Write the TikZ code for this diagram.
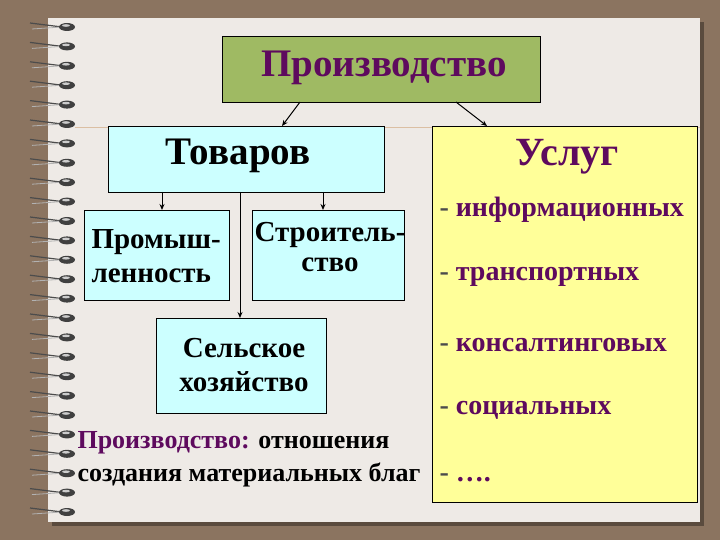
\documentclass[tikz,border=0pt]{standalone}
\usepackage{fontspec}
\setmainfont{Liberation Serif}
\usetikzlibrary{arrows.meta}
\begin{document}
\begin{tikzpicture}[x=1pt,y=-1pt,
  box/.style={draw=black,line width=0.8pt,inner sep=0pt,anchor=north west},
  arr/.style={-{Stealth[length=6pt,width=5pt]},line width=1pt},
  item/.style={anchor=west,font=\fontsize{28}{30}\selectfont\bfseries}]
\definecolor{frame}{HTML}{8B7460}
\definecolor{paper}{HTML}{EEEAE6}
\definecolor{prodg}{HTML}{9FBA63}
\definecolor{cyanb}{HTML}{CCFFFF}
\definecolor{yelb}{HTML}{FFFF99}
\definecolor{purp}{HTML}{5E0A5E}
\fill[frame] (0,0) rectangle (720,540);
\useasboundingbox (0,0) rectangle (720,540);
\fill[black!35!frame] (52,22) rectangle (704,526);
\fill[paper] (48,18) rectangle (700,522);
\draw[color=brown!40!paper,line width=0.8pt] (75,127) -- (700,127);
% rings
\foreach \i in {0,...,25}{
  \pgfmathsetmacro{\yy}{27+19.4*\i}
  \draw[black!70,line width=1.2pt] (62,\yy) -- (30,\yy-4);
  \draw[gray!60,line width=0.8pt] (62,\yy) -- (32,\yy+2);
  \fill[black!75] (67,\yy) ellipse (8pt and 4pt);
  \fill[gray!40] (66,\yy-1.5) ellipse (4pt and 1.3pt);
}
% boxes
\node[box,fill=prodg,minimum width=318pt,minimum height=66pt] (prod) at (222,36) {};
\node[font=\fontsize{39}{42}\selectfont\bfseries,text=purp] at (384,68) {Производство};
\node[box,fill=cyanb,minimum width=276pt,minimum height=66pt] (tov) at (108,126) {};
\node[font=\fontsize{39}{42}\selectfont\bfseries] at (238,156) {Товаров};
\node[box,fill=yelb,minimum width=265pt,minimum height=376pt] (usl) at (432,126) {};
\node[font=\fontsize{40}{42}\selectfont\bfseries,text=purp] at (567,157) {Услуг};
\node[box,fill=cyanb,minimum width=145pt,minimum height=90pt] (prom) at (84,210) {};
\node[anchor=west,font=\fontsize{29}{34}\selectfont\bfseries,align=left] at (88,256) {Промыш-\\ленность};
\node[box,fill=cyanb,minimum width=152pt,minimum height=90pt] (str) at (252,210) {};
\node[font=\fontsize{29}{30}\selectfont\bfseries,align=center] at (330,247) {Строитель-\\ство};
\node[box,fill=cyanb,minimum width=170pt,minimum height=95pt] (sel) at (156,318) {};
\node[font=\fontsize{29}{34}\selectfont\bfseries,align=center] at (244,365) {Сельское\\хозяйство};
% arrows
\coordinate (p1) at (300,102); \coordinate (p2) at (456,102);
\draw[arr] (p1) -- (282,126);
\draw[arr] (p2) -- (487,126);
\draw[arr] (162,192) -- (162,210);
\draw[arr] (323,192) -- (323,210);
\draw[arr] (240,192) -- (240,318);
% items
\foreach \t/\y in {информационных/210,транспортных/277,консалтинговых/345,социальных/410,…./478}
  \node[item,text=purp] at (436,\y) {\textcolor{black!70}{- }\t};
\node[anchor=west,font=\fontsize{26}{28}\selectfont\bfseries] at (74,443) {\textcolor{purp}{Производство:} отношения};
\node[anchor=west,font=\fontsize{26}{28}\selectfont\bfseries] at (74,475) {создания материальных благ};
\end{tikzpicture}
\end{document}
